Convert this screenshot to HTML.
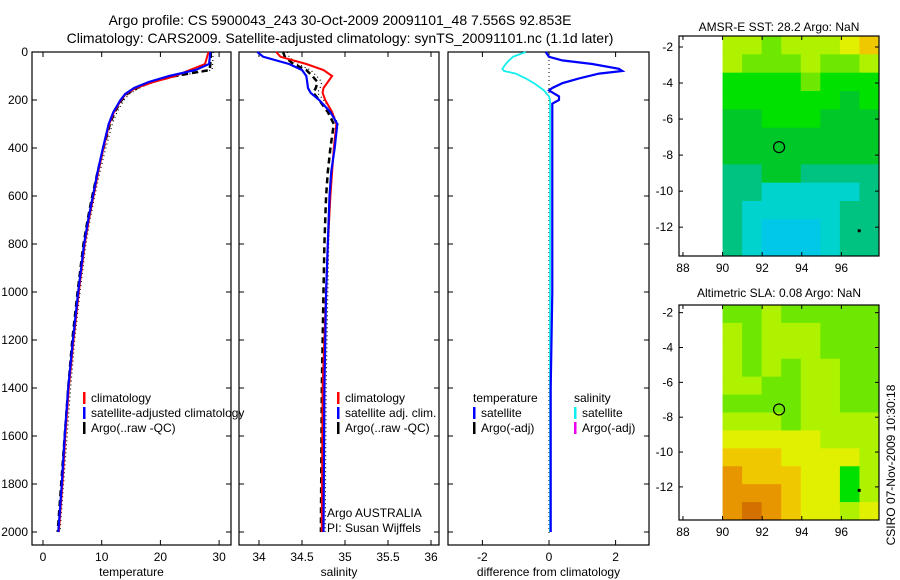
<!DOCTYPE html>
<html><head><meta charset="utf-8"><style>
body{margin:0;background:#fff;}
svg{font-family:"Liberation Sans",sans-serif;display:block;}
</style></head><body>
<svg id="fig" width="900" height="580" viewBox="0 0 900 580" xmlns="http://www.w3.org/2000/svg">
<text x="340" y="25" font-size="14" text-anchor="middle">Argo profile: CS 5900043_243 30-Oct-2009 20091101_48 7.556S 92.853E</text>
<text x="340" y="43" font-size="14" text-anchor="middle">Climatology: CARS2009. Satellite-adjusted climatology: synTS_20091101.nc (1.1d later)</text>
<text x="779" y="31" font-size="12" text-anchor="middle">AMSR-E SST: 28.2 Argo: NaN</text>
<text x="779" y="297" font-size="12" text-anchor="middle">Altimetric SLA: 0.08 Argo: NaN</text>
<text x="0" y="0" font-size="12" text-anchor="middle" transform="translate(895,465) rotate(-90)">CSIRO 07-Nov-2009 10:30:18</text>
<g id="plots"></g>
</svg>
<script>
// ---- data ----
const depthTicks=[0,200,400,600,800,1000,1200,1400,1600,1800,2000];
const tempTicks=[0,10,20,30];
const salTicks=[34,34.5,35,35.5,36];
const diffTicks=[-2,0,2];
const tDepth=[0,50,75,100,125,150,175,200,250,300,400,500,600,700,800,1000,1200,1400,1600,1800,2000];
const tempSat=[28.5,28.3,26,21.5,18,15.5,14,13.2,12,11.2,10.2,9.3,8.5,7.7,7.0,6.0,5.1,4.3,3.7,3.2,2.6];
const tempClim=[28.2,27.6,25,22.5,18.8,15.8,14.1,13.3,12.1,11.3,10.3,9.4,8.6,7.8,7.1,6.1,5.2,4.4,3.8,3.3,2.7];
const tempArgo=[28.6,28.5,28.4,22.5,18.5,16,14.3,13.4,12.2,11.4,10.3,9.3,8.4,7.6,6.9,5.9,5.0,4.3,3.7,3.1,2.5];
const sDepth=[0,20,50,75,100,125,150,170,200,250,300,400,500,600,800,1000,1400,2000];
const salSat=[33.98,34.05,34.35,34.5,34.55,34.56,34.57,34.6,34.7,34.83,34.91,34.88,34.84,34.82,34.8,34.78,34.76,34.75];
const salClim=[34.2,34.25,34.55,34.75,34.85,34.8,34.75,34.74,34.77,34.85,34.9,34.87,34.85,34.83,34.8,34.78,34.74,34.73];
const salArgo=[34.28,34.3,34.4,34.55,34.62,34.68,34.66,34.63,34.7,34.8,34.87,34.83,34.8,34.78,34.76,34.75,34.73,34.72];
const dDepth=[0,20,35,50,70,79,90,110,130,150,160,185,200,215,300,600,1000,1400,2000];
const dTempSat=[-0.1,0,0.4,1.3,2.1,2.2,1.5,0.9,0.4,0.1,0,0.3,0.3,0.1,0.1,0.1,0.1,0.05,0.05];
const dSalSat=[-0.7,-1.08,-1.2,-1.3,-1.4,-1.35,-1.0,-0.7,-0.45,-0.25,-0.15,0,0.03,0.03,0.03,0.03,0.03,0.03,0.03];
const mapLon=[90,97.9];
const sstGrid=[
[6,6,5,6,6,6,7,8],[6,5,5,5,6,5,5,6],[4,4,4,4,5,4,4,4],[4,4,4,4,4,4,3,4],
[3,3,4,4,4,3,3,3],[3,3,3,3,3,3,3,3],[3,3,3,3,3,3,3,3],[2,2,3,3,2,2,2,2],
[2,2,1,1,1,1,1,2],[2,1,1,1,1,1,2,2],[2,1,0,0,0,1,2,2],[2,1,0,0,0,1,2,2]];
const slaGrid=[
[5,5,6,5,5,5,5,5],[6,5,6,6,6,5,5,5],[6,5,6,6,6,5,5,5],[6,5,6,5,6,6,5,5],
[6,6,5,5,6,6,5,5],[5,5,5,5,6,6,5,5],[6,6,6,5,6,6,6,6],[7,7,7,7,7,6,6,6],
[8,8,8,7,7,7,7,6],[9,8,8,8,7,7,4,6],[9,9,9,8,7,7,4,6],[9,10,9,8,7,7,6,7]];
const palette=["rgb(0,200,230)","rgb(0,210,205)","rgb(0,195,130)","rgb(0,200,40)","rgb(0,225,0)","rgb(110,232,0)","rgb(175,242,0)","rgb(225,240,0)","rgb(240,200,0)","rgb(232,150,0)","rgb(210,112,0)"];
const lonTicks=[88,90,92,94,96];
const latTicks=[-2,-4,-6,-8,-10,-12];
const argoPos=[92.853,-7.556];

const NS="http://www.w3.org/2000/svg";
const root=document.getElementById('plots');
function mk(tag,attrs,parent){const e=document.createElementNS(NS,tag);for(const k in attrs)e.setAttribute(k,attrs[k]);(parent||root).appendChild(e);return e;}
function txt(s,x,y,anchor,parent,size){const t=mk('text',{x:x,y:y,'font-size':size||12,'text-anchor':anchor||'start'},parent);t.textContent=s;return t;}

const pTop=52,pBot=545;
const yD=d=>pTop+d*0.24;

function panel(name,x0,x1,xScale,ticks,label,showY){
  const g=mk('g',{});
  
  
  const f=mk('rect',{x:x0,y:pTop,width:x1-x0,height:pBot-pTop,fill:'none',stroke:'#000','stroke-width':1.2},g);
  
  
  depthTicks.forEach(d=>{
    mk('line',{x1:x0,x2:x0+5,y1:yD(d),y2:yD(d),stroke:'#000'},g);
    mk('line',{x1:x1-5,x2:x1,y1:yD(d),y2:yD(d),stroke:'#000'},g);
    if(showY){const t=txt(String(d),x0-4,yD(d)+4,'end',g);
      
      }
  });
  ticks.forEach(v=>{
    const x=xScale(v);
    mk('line',{x1:x,x2:x,y1:pTop,y2:pTop+5,stroke:'#000'},g);
    mk('line',{x1:x,x2:x,y1:pBot-5,y2:pBot,stroke:'#000'},g);
    const t=txt(String(v),x,pBot+16,'middle',g);
    
    
  });
  const l=txt(label,(x0+x1)/2,pBot+31,'middle',g);
  
  
  return g;
}
function line(g,name,depths,vals,xs,color,w,dash){
  const pts=depths.map((d,i)=>xs(vals[i]).toFixed(1)+','+yD(d).toFixed(1)).join(' ');
  const p=mk('polyline',{points:pts,fill:'none',stroke:color,'stroke-width':w},g);
  if(dash)p.setAttribute('stroke-dasharray',dash);
  
  
  return p;
}
function legend(g,items,x,y){
  items.forEach((it,i)=>{
    if(it.c) mk('rect',{x:x,y:y+i*15-10,width:2.5,height:12,fill:it.c},g);
    const t=txt(it.t,x+(it.c?8:0),y+i*15,'start',g);
    
    
  });
}

// panel 1 temperature
const xT=v=>43+v*5.87;
const g1=panel('temperature-panel',32,231,xT,tempTicks,'temperature',true);
line(g1,'temp-argo-raw',tDepth,tempArgo.map(v=>v+0.4),xT,'#000',1.2,'1,3');
line(g1,'temp-argo',tDepth,tempArgo,xT,'#000',2.5,'6,4');
line(g1,'temp-climatology',tDepth,tempClim,xT,'#f00',2);
line(g1,'temp-satellite',tDepth,tempSat,xT,'#00f',2.2);
legend(g1,[{t:'climatology',c:'#f00'},{t:'satellite-adjusted climatology',c:'#00f'},{t:'Argo(..raw -QC)',c:'#000'}],83,402);

// panel 2 salinity
const xS=v=>259+(v-34)*86;
const g2=panel('salinity-panel',239,439,xS,salTicks,'salinity',false);
line(g2,'sal-argo-raw',sDepth,salArgo.map(v=>v+0.05),xS,'#000',1.2,'1,3');
line(g2,'sal-argo',sDepth,salArgo,xS,'#000',2.5,'6,4');
line(g2,'sal-climatology',sDepth,salClim,xS,'#f00',2);
line(g2,'sal-satellite',sDepth,salSat,xS,'#00f',2.2);
legend(g2,[{t:'climatology',c:'#f00'},{t:'satellite adj. clim.',c:'#00f'},{t:'Argo(..raw -QC)',c:'#000'}],337,402);
txt('Argo AUSTRALIA',327,517,'start',g2);
txt('PI: Susan Wijffels',327,532,'start',g2);

// panel 3 difference
const xDf=v=>549+v*33.3;
const g3=panel('difference-panel',448,649,xDf,diffTicks,'difference from climatology',false);
mk('line',{x1:549,x2:549,y1:pTop,y2:pBot-12,stroke:'#000','stroke-dasharray':'1,3'},g3);
line(g3,'diff-sal-satellite',dDepth,dSalSat,xDf,'#1ee',1.8);
line(g3,'diff-temp-satellite',dDepth,dTempSat,xDf,'#00f',2.2);
legend(g3,[{t:'temperature'},{t:'satellite',c:'#00f'},{t:'Argo(-adj)',c:'#000'}],473,402);
legend(g3,[{t:'salinity'},{t:'satellite',c:'#1ee'},{t:'Argo(-adj)',c:'#e0e'}],574,402);

// maps
function map(name,y0,y1,latTop,latBot,grid){
  const x0=679,x1=879;
  const lonL=87.8,lonR=97.9;
  const xL=v=>x0+(v-lonL)/(lonR-lonL)*(x1-x0);
  const yL=v=>y0+(latTop-v)/(latTop-latBot)*(y1-y0);
  const g=mk('g',{});
  
  
  const rows=grid.length,cols=grid[0].length;
  const cw=(mapLon[1]-mapLon[0])/cols,ch=(latTop-latBot)/rows;
  grid.forEach((row,r)=>row.forEach((v,c)=>{
    const xa=xL(mapLon[0]+c*cw),xb=xL(mapLon[0]+(c+1)*cw);
    const ya=yL(latTop-r*ch),yb=yL(latTop-(r+1)*ch);
    const cell=mk('rect',{x:xa,y:ya,width:xb-xa+0.5,height:yb-ya+0.5,fill:palette[v]},g);
    
    
  }));
  mk('rect',{x:x0,y:y0,width:x1-x0,height:y1-y0,fill:'none',stroke:'#000','stroke-width':1.2},g);
  lonTicks.forEach(v=>{const x=xL(v);
    mk('line',{x1:x,x2:x,y1:y1-4,y2:y1,stroke:'#000'},g);
    mk('line',{x1:x,x2:x,y1:y0,y2:y0+4,stroke:'#000'},g);
    const t=txt(String(v),x,y1+16,'middle',g);
    
    });
  latTicks.forEach(v=>{const y=yL(v);
    mk('line',{x1:x0,x2:x0+4,y1:y,y2:y,stroke:'#000'},g);
    mk('line',{x1:x1-4,x2:x1,y1:y,y2:y,stroke:'#000'},g);
    const t=txt(String(v),x0-6,y+4,'end',g);
    
    });
  const c=mk('circle',{cx:xL(argoPos[0]),cy:yL(argoPos[1]),r:5.5,fill:'none',stroke:'#000','stroke-width':1.2},g);
  
  
  mk('rect',{x:xL(96.9)-1.5,y:yL(-12.2)-1.5,width:3,height:3,fill:'#000'},g);
}
map('sst-map',36,256,-1.39,-13.6,sstGrid);
map('sla-map',305,520,-1.56,-13.9,slaGrid);
</script>
</body></html>
